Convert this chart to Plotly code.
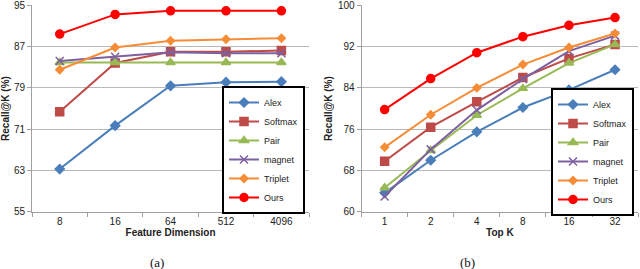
import plotly.graph_objects as go

dims = ["8", "16", "64", "512", "4096"]
topk = ["1", "2", "4", "8", "16", "32"]
methods = ["Alex", "Softmax", "Pair", "magnet", "Triplet", "Ours"]

# (a) Recall@K vs feature dimension
a_alex = [63.3, 71.7, 79.4, 80.1, 80.2]
a_softmax = [74.4, 83.8, 86.0, 86.0, 86.2]
a_pair = [83.9, 83.9, 83.9, 83.9, 83.9]
a_magnet = [84.2, 85.0, 85.9, 85.7, 85.7]
a_triplet = [82.5, 86.8, 88.1, 88.4, 88.6]
a_ours = [89.4, 93.2, 93.9, 93.9, 93.9]

# (b) Recall@K vs top K
b_alex = [63.7, 70.0, 75.5, 80.2, 83.6, 87.5]
b_softmax = [69.8, 76.4, 81.3, 86.0, 89.7, 92.4]
b_pair = [64.7, 71.9, 78.7, 83.9, 88.8, 92.4]
b_magnet = [63.0, 72.1, 79.7, 85.7, 91.1, 94.1]
b_triplet = [72.5, 78.8, 84.0, 88.5, 91.8, 94.5]
b_ours = [79.8, 85.8, 90.8, 93.9, 96.1, 97.6]

a_ticks = [55, 63, 71, 79, 87, 95]
b_ticks = [60, 68, 76, 84, 92, 100]

colors = ["#4A7EBB", "#BE4B48", "#98B954", "#7D60A0", "#F68C36", "#FF0000"]
symbols = ["diamond", "square", "triangle-up", "x-thin-open", "diamond", "circle"]
msizes = [7, 8, 8, 8, 6, 8]

FONT = "Liberation Sans"
fig = go.Figure()

a_data = [a_alex, a_softmax, a_pair, a_magnet, a_triplet, a_ours]
b_data = [b_alex, b_softmax, b_pair, b_magnet, b_triplet, b_ours]

for i, m in enumerate(methods):
    mk = dict(symbol=symbols[i], size=msizes[i], color=colors[i],
              line=dict(color=colors[i], width=1.5))
    fig.add_trace(go.Scatter(x=dims, y=a_data[i], name=m, mode="lines+markers",
                             line=dict(color=colors[i], width=2), marker=mk,
                             xaxis="x", yaxis="y", legend="legend"))
for i, m in enumerate(methods):
    mk = dict(symbol=symbols[i], size=msizes[i], color=colors[i],
              line=dict(color=colors[i], width=1.5))
    fig.add_trace(go.Scatter(x=topk, y=b_data[i], name=m, mode="lines+markers",
                             line=dict(color=colors[i], width=2), marker=mk,
                             xaxis="x2", yaxis="y2", legend="legend2"))

ax_common = dict(showline=True, linecolor="#A0A0A0", linewidth=1,
                 ticks="outside", tickcolor="#A0A0A0", ticklen=4,
                 tickfont=dict(family=FONT, size=10, color="#222"),
                 zeroline=False, automargin=False, ticklabeloverflow="allow")

fig.update_layout(
    width=640, height=269,
    margin=dict(l=0, r=0, t=0, b=0),
    paper_bgcolor="white", plot_bgcolor="white",
    font=dict(family=FONT, size=10, color="#222"),
    xaxis=dict(domain=[0.05, 0.483], type="category", tickson="boundaries",
               range=[-0.5, len(dims) - 0.5],
               showgrid=False, anchor="y",
               title=dict(text="<b>Feature Dimension</b>", font=dict(size=10), standoff=3),
               **ax_common),
    yaxis=dict(domain=[0.212, 0.981], range=[55, 95], tickvals=a_ticks,
               showgrid=True, gridcolor="#B8B8B8", anchor="x",
               title=dict(text="<b>Recall@K (%)</b>", font=dict(size=10), standoff=3),
               **ax_common),
    xaxis2=dict(domain=[0.565, 0.997], type="category", tickson="boundaries",
                range=[-0.5, len(topk) - 0.5],
                showgrid=False, anchor="y2",
                title=dict(text="<b>Top K</b>", font=dict(size=10), standoff=3),
                **ax_common),
    yaxis2=dict(domain=[0.212, 0.981], range=[60, 100], tickvals=b_ticks,
                showgrid=True, gridcolor="#B8B8B8", anchor="x2",
                title=dict(text="<b>Recall@K (%)</b>", font=dict(size=10), standoff=3),
                **ax_common),
    legend=dict(x=222 / 640, y=1 - 86 / 269, xanchor="left", yanchor="top",
                bordercolor="black", borderwidth=2, bgcolor="white",
                font=dict(family=FONT, size=9), itemwidth=30,
                tracegroupgap=0, traceorder="normal"),
    legend2=dict(x=551 / 640, y=1 - 88 / 269, xanchor="left", yanchor="top",
                 bordercolor="black", borderwidth=2, bgcolor="white",
                 font=dict(family=FONT, size=9), itemwidth=30,
                 tracegroupgap=0, traceorder="normal"),
    annotations=[
        dict(text="(a)", x=0.232, y=1 - 262 / 269, xref="paper", yref="paper",
             yanchor="middle", showarrow=False,
             font=dict(family="Liberation Serif", size=13, color="#111")),
        dict(text="(b)", x=0.745, y=1 - 262 / 269, xref="paper", yref="paper",
             yanchor="middle", showarrow=False,
             font=dict(family="Liberation Serif", size=13, color="#111")),
    ],
    showlegend=True,
)

fig.write_html("out.html", config={"displayModeBar": False},
               post_script="document.body.style.margin='0';")
